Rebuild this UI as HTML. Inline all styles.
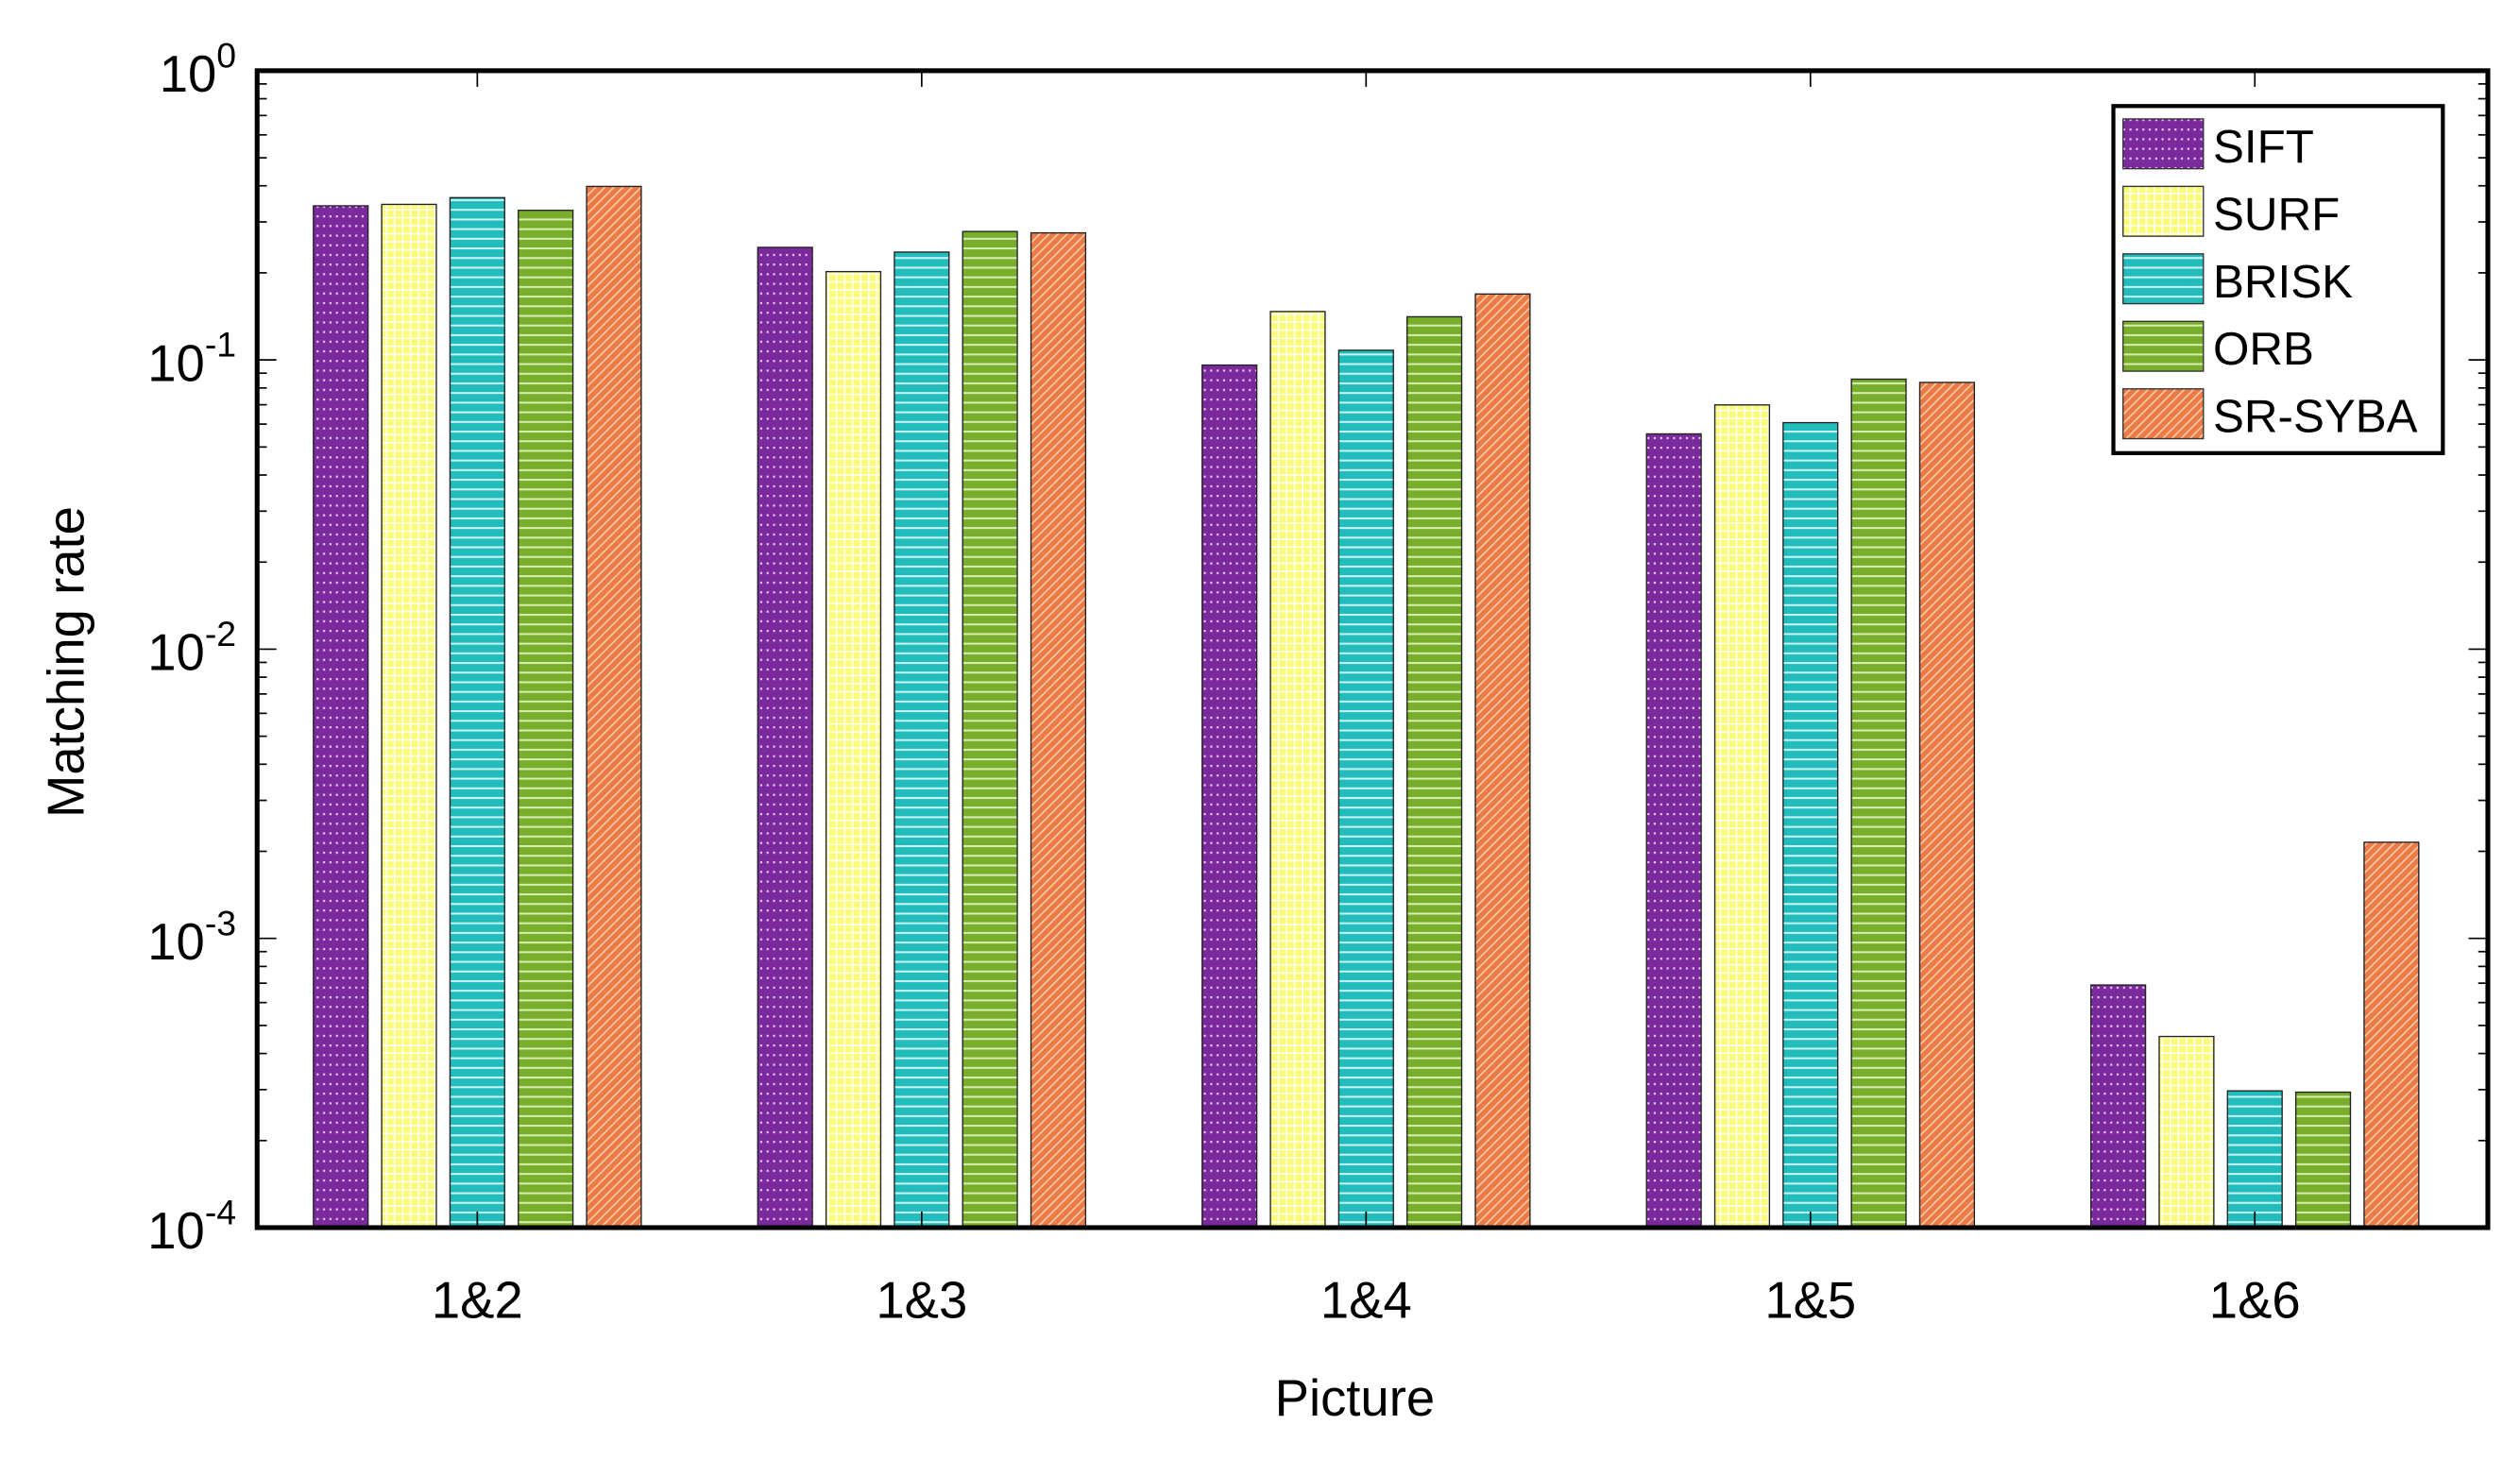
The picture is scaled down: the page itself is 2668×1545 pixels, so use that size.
<!DOCTYPE html>
<html><head><meta charset="utf-8">
<style>html,body{margin:0;padding:0;background:#fff;}svg{display:block;}</style>
</head><body>
<svg id="chart" width="2668" height="1545" viewBox="0 0 1568 908" preserveAspectRatio="none" xmlns="http://www.w3.org/2000/svg" font-family="'Liberation Sans', Arial, sans-serif">
<defs>
  <pattern id="p-sift" width="4" height="6" patternUnits="userSpaceOnUse">
    <rect width="4" height="6" fill="#7a2a9c"/><rect x="1" y="2" width="1.3" height="1.3" fill="#e8c8f0"/>
  </pattern>
  <pattern id="p-surf" width="5" height="5" patternUnits="userSpaceOnUse">
    <rect width="5" height="5" fill="#fbfb7a"/><rect x="0" y="0" width="1" height="5" fill="#fffff0"/><rect x="0" y="0" width="5" height="1" fill="#fffff0"/>
  </pattern>
  <pattern id="p-brisk" width="6" height="6" patternUnits="userSpaceOnUse">
    <rect width="6" height="6" fill="#22bcbc"/><rect y="4" width="6" height="1.2" fill="#c8f4f4"/>
  </pattern>
  <pattern id="p-orb" width="6" height="6" patternUnits="userSpaceOnUse">
    <rect width="6" height="6" fill="#78ae2c"/><rect y="4" width="6" height="1.2" fill="#d8ecb0"/>
  </pattern>
  <pattern id="p-sr" width="4" height="4" patternUnits="userSpaceOnUse" patternTransform="rotate(45)">
    <rect width="4" height="4" fill="#ec7a44"/><rect width="1" height="4" fill="#f8c8a8"/>
  </pattern>
</defs>
<g id="plot"></g>
</svg>
<script>
const categories = ["1&2","1&3","1&4","1&5","1&6"];
const seriesNames = ["SIFT","SURF","BRISK","ORB","SR-SYBA"];
const sift  = [0.341, 0.245, 0.096, 0.0555, 0.00069];
const surf  = [0.345, 0.202, 0.147, 0.0699, 0.000458];
const brisk = [0.364, 0.236, 0.108, 0.0607, 0.000297];
const orb   = [0.329, 0.278, 0.141, 0.0858, 0.000294];
const srsyba= [0.398, 0.275, 0.169, 0.0836, 0.00215];
const yTickExps = [0, -1, -2, -3, -4];

const NS = "http://www.w3.org/2000/svg";
const g = document.getElementById("plot");
const L = 160, R = 1548, T = 44, B = 764;
const yMin = -4, yMax = 0;
function yScale(v){ return T + (yMax - Math.log10(v)) / (yMax - yMin) * (B - T); }
const firstCenter = 297, groupStep = 276.5;
function xCenter(i){ return firstCenter + groupStep * i; }
const barW = 34, pitch = 42.5;
function mk(tag, attrs){ const e = document.createElementNS(NS, tag); for (const k in attrs) e.setAttribute(k, attrs[k]); g.appendChild(e); return e; }

const allSeries = [sift, surf, brisk, orb, srsyba];
const fills = ["url(#p-sift)","url(#p-surf)","url(#p-brisk)","url(#p-orb)","url(#p-sr)"];
const keys = ["sift","surf","brisk","orb","sr-syba"];

allSeries.forEach((vals, s) => {
  vals.forEach((v, i) => {
    const x = xCenter(i) + (s - 2) * pitch - barW / 2;
    const y = yScale(v);
    const r = mk("rect", {x: x, y: y, width: barW, height: B - y, fill: fills[s], stroke: "#222", "stroke-width": 0.8});
    
    
  });
});

for (let e = yMin; e < yMax; e++) {
  for (let m = 2; m <= 9; m++) {
    const y = yScale(m * Math.pow(10, e));
    mk("line", {x1: L, x2: L + 6, y1: y, y2: y, stroke: "#000", "stroke-width": 1});
    mk("line", {x1: R, x2: R - 6, y1: y, y2: y, stroke: "#000", "stroke-width": 1});
  }
}
yTickExps.forEach(e => {
  const y = yScale(Math.pow(10, e));
  mk("line", {x1: L, x2: L + 12, y1: y, y2: y, stroke: "#000", "stroke-width": 1});
  mk("line", {x1: R, x2: R - 12, y1: y, y2: y, stroke: "#000", "stroke-width": 1});
  const t = mk("text", {x: 147, y: y + 13, "text-anchor": "end", "font-size": 32, fill: "#000"});
  
  
  const base = document.createElementNS(NS, "tspan"); base.textContent = "10"; t.appendChild(base);
  const sup = document.createElementNS(NS, "tspan"); sup.setAttribute("dy", "-15"); sup.setAttribute("font-size", "22"); sup.textContent = String(e); t.appendChild(sup);
});
categories.forEach((c, i) => {
  const x = xCenter(i);
  mk("line", {x1: x, x2: x, y1: B, y2: B - 10, stroke: "#000", "stroke-width": 1});
  mk("line", {x1: x, x2: x, y1: T, y2: T + 10, stroke: "#000", "stroke-width": 1});
  const t = mk("text", {x: x, y: 820, "text-anchor": "middle", "font-size": 32, fill: "#000"});
  t.textContent = c;
  
  
});
const box = mk("rect", {x: L, y: T, width: R - L, height: B - T, fill: "none", stroke: "#000", "stroke-width": 3});



const xt = mk("text", {x: 843, y: 881, "text-anchor": "middle", "font-size": 32, fill: "#000"});
xt.textContent = "Picture";


const yt = mk("text", {x: 0, y: 0, "text-anchor": "middle", "font-size": 32, fill: "#000", transform: "translate(52,412) rotate(-90)"});
yt.textContent = "Matching rate";



const lg = mk("rect", {x: 1315, y: 66, width: 205, height: 216, fill: "#fff", stroke: "#000", "stroke-width": 2.5});


seriesNames.forEach((n, s) => {
  const y0 = 74 + s * 42;
  const sw = mk("rect", {x: 1321, y: y0, width: 50, height: 31, fill: fills[s], stroke: "#333", "stroke-width": 0.8});
  
  
  const t = mk("text", {x: 1377, y: y0 + 27, "font-size": 29, fill: "#000"});
  t.textContent = n;
  
  
});
</script>
</body></html>
